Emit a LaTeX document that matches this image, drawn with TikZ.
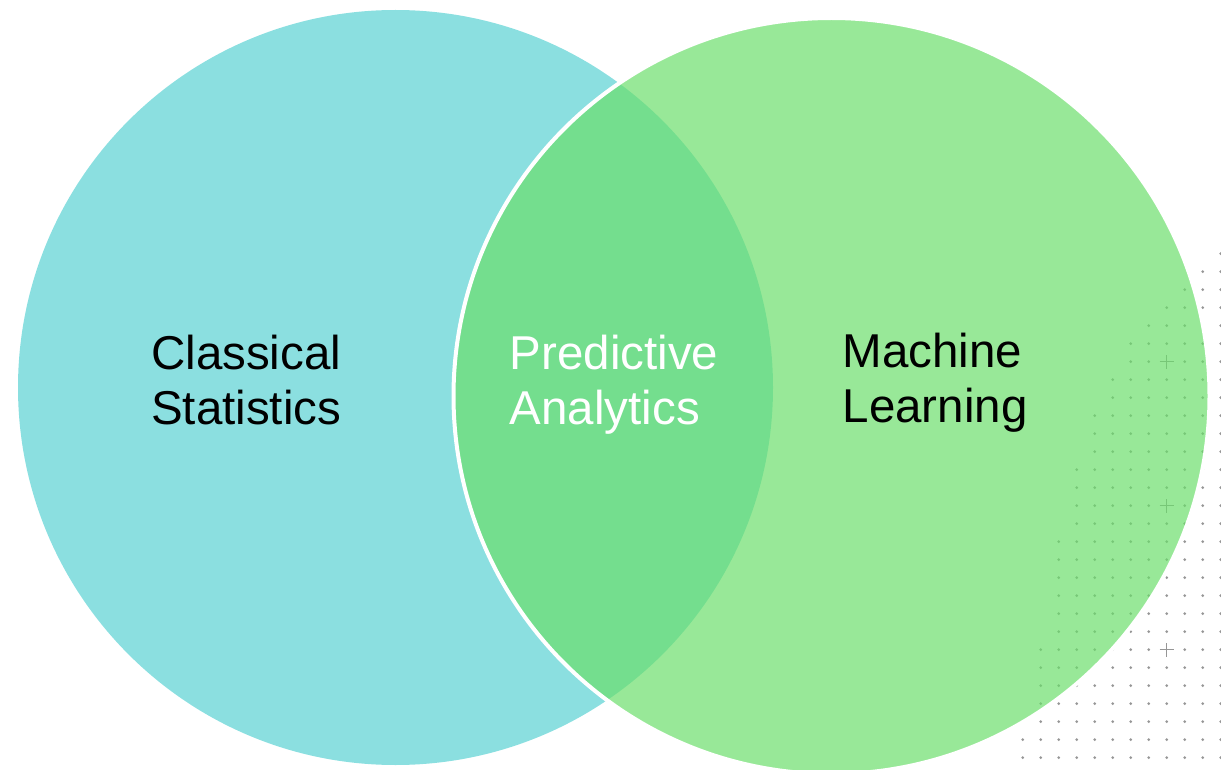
\documentclass[tikz,border=0pt]{standalone}
\usepackage{fontspec}
\setmainfont{Liberation Sans}
\definecolor{cyanfill}{RGB}{139,223,224}
\definecolor{greenbase}{RGB}{106,222,106}
\definecolor{dotgray}{RGB}{150,150,150}
\begin{document}
\begin{tikzpicture}[x=1pt,y=-1pt,
  lbl/.style={anchor=base west, align=left, inner sep=0pt, font=\fontsize{47.5}{55}\selectfont},
  dotmark/.style={fill=dotgray, draw=none},
  plusmark/.style={draw=dotgray, line width=1.5pt}]
\useasboundingbox (0,0) rectangle (1221,770);
\clip (0,0) rectangle (1221,770);
% left circle
\fill[cyanfill] (395.5,387.5) circle[radius=377.5];
% dot grid
\foreach \yy/\kk in {757.7/0,739.7/0,721.7/1,703.7/1,685.7/1,667.7/1,649.7/1,631.7/2,613.7/2,595.7/2,577.7/2,559.7/2,541.7/2,523.7/3,505.7/3,487.7/3,469.7/3,451.7/4,433.7/4,415.7/4,397.7/5,379.7/5,361.7/6,343.7/6,325.7/7,307.7/8,289.7/9,271.7/10,253.7/11}{
  \foreach \ii in {\kk,...,11}{
    \fill[dotmark] ({1022.7+18*\ii},\yy) circle[radius=1.5];
  }
}
\foreach \yy [count=\n] in {361.7,505.7,649.7}{
  \fill[white] (1166.7,\yy) circle[radius=2];
  \coordinate (p\n) at (1166.7,\yy);
  \draw[plusmark] ([xshift=-7pt]p\n) -- ([xshift=7pt]p\n);
  \draw[plusmark] ([yshift=-7pt]p\n) -- ([yshift=7pt]p\n);
}
% right circle
\draw[fill=greenbase, fill opacity=0.69, draw=white, line width=4pt] (831.5,396) circle[radius=378];
% labels
\node[lbl, text=black] (cs) at (151,424) {Classical\\Statistics};
\node[lbl, text=white] (pa) at (509.5,424) {Predictive\\Analytics};
\node[lbl, text=black] (ml) at (842.5,422) {Machine\\Learning};
\end{tikzpicture}
\end{document}
